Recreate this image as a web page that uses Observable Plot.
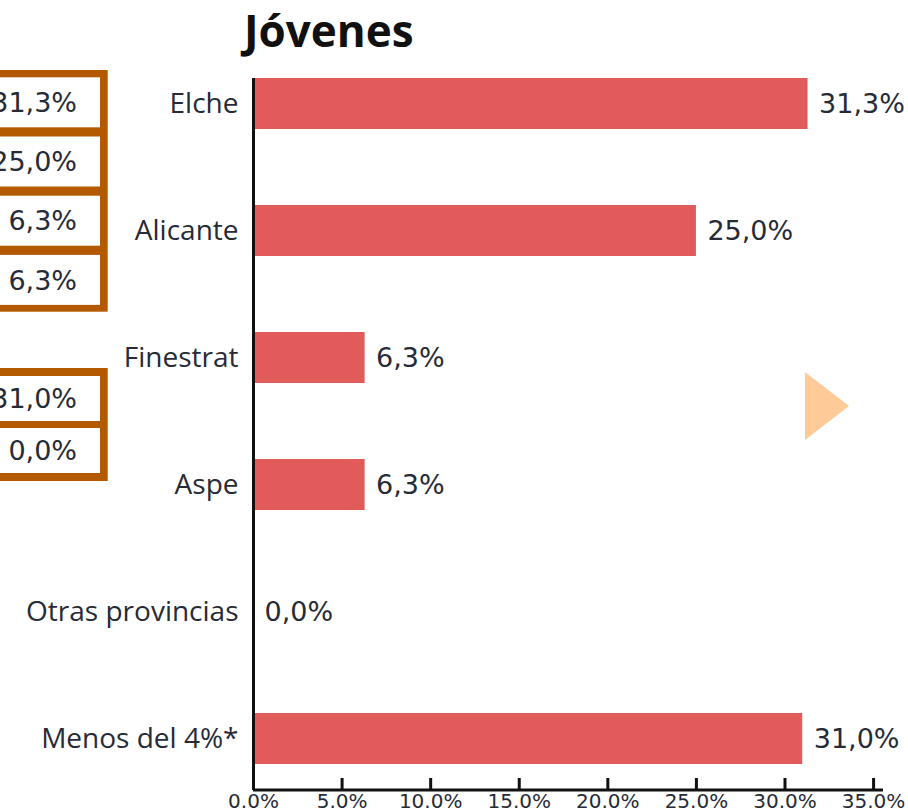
<!DOCTYPE html>
<html><head><meta charset="utf-8">
<script src="https://cdn.jsdelivr.net/npm/d3@7"></script>
<script src="https://cdn.jsdelivr.net/npm/@observablehq/plot@0.6"></script>
<style>
body{margin:0;background:#fff;}
#wrap{position:relative;width:908px;height:811px;overflow:hidden;background:#fff;}
#wrap > svg{position:absolute;left:0;top:0;}
</style></head><body><div id="wrap"></div>
<script>
const title = "Jóvenes";
const categories = ["Elche", "Alicante", "Finestrat", "Aspe", "Otras provincias", "Menos del 4%*"];
const values = [31.3, 25.0, 6.3, 6.3, 0.0, 31.0];
const xTicks = [0, 5, 10, 15, 20, 25, 30, 35];
const xMax = 35.56;
const boxValues1 = ["31,3%", "25,0%", "6,3%", "6,3%"];
const boxValues2 = ["31,0%", "0,0%"];

const textColor = "#262b36";
const barColor = "#e15b5a";
const data = categories.map((c, i) => ({cat: c, value: values[i]}));
const fmt = v => v.toFixed(1).replace(".", ",") + "%";

const marginTop = 78, marginBottom = 21;
const frameH = 811 - marginTop - marginBottom;

const chart = Plot.plot({
  width: 908, height: 811,
  marginLeft: 253, marginRight: 25, marginTop, marginBottom,
  style: {background: "transparent", overflow: "visible"},
  x: {domain: [0, xMax], label: null},
  y: {domain: categories, paddingInner: 0.6, paddingOuter: 0.1, align: 0, label: null},
  marks: [
    Plot.barX(data, {x: "value", y: "cat", fill: barColor}),
    Plot.ruleX(xTicks, {x: d => d, insetTop: frameH - 12, stroke: "#111", strokeWidth: 3}),
    Plot.barX([xMax], {x: d => d, insetTop: frameH - 1.5, insetBottom: -1.5, fill: "#111"}),
    Plot.ruleX([0], {stroke: "#111", strokeWidth: 3}),
    Plot.axisY({tickSize: 0, tickPadding: 15, fontSize: 28, fontFamily: "Open Sans", color: textColor, label: null}),
    Plot.axisX(xTicks, {tickSize: 0, tickPadding: 3, tickFormat: d => d.toFixed(1) + "%", fontSize: 20, fontFamily: "DejaVu Sans", color: textColor, label: null}),
    Plot.text(data, {x: "value", y: "cat", text: d => fmt(d.value), textAnchor: "start", dx: 11, fontSize: 27, fontFamily: "DejaVu Sans", fill: textColor})
  ]
});
document.getElementById("wrap").appendChild(chart);

// overlay: title, partial neighbouring boxes, navigation triangle
const ov = d3.select("#wrap").append("svg").attr("width", 908).attr("height", 811);
ov.append("text").attr("x", 244).attr("y", 47).attr("font-family", "Open Sans").attr("font-weight", 700)
  .attr("font-size", 44).attr("fill", "#111").text(title);

const orange = "#b35900";
function boxGroup(vals, top, cellTop, cellH, pitch, bottom) {
  const g = ov.append("g");
  g.append("rect").attr("x", -20).attr("y", top).attr("width", 127.7).attr("height", bottom - top).attr("fill", orange);
  vals.forEach((v, i) => {
    const y = cellTop + i * pitch;
    g.append("rect").attr("x", -20).attr("y", y).attr("width", 120).attr("height", cellH).attr("fill", "#fff");
    g.append("text").attr("x", 77).attr("y", y + cellH / 2).attr("dy", "0.36em").attr("text-anchor", "end")
      .attr("font-family", "DejaVu Sans").attr("font-size", 27).attr("fill", textColor).text(v);
  });
}
boxGroup(boxValues1, 70, 77.3, 50, 59.2, 311.7);
boxGroup(boxValues2, 368, 376, 45, 52, 481);

ov.append("polygon").attr("points", "805,372 849,406 805,440").attr("fill", "#fecb98");
</script></body></html>
